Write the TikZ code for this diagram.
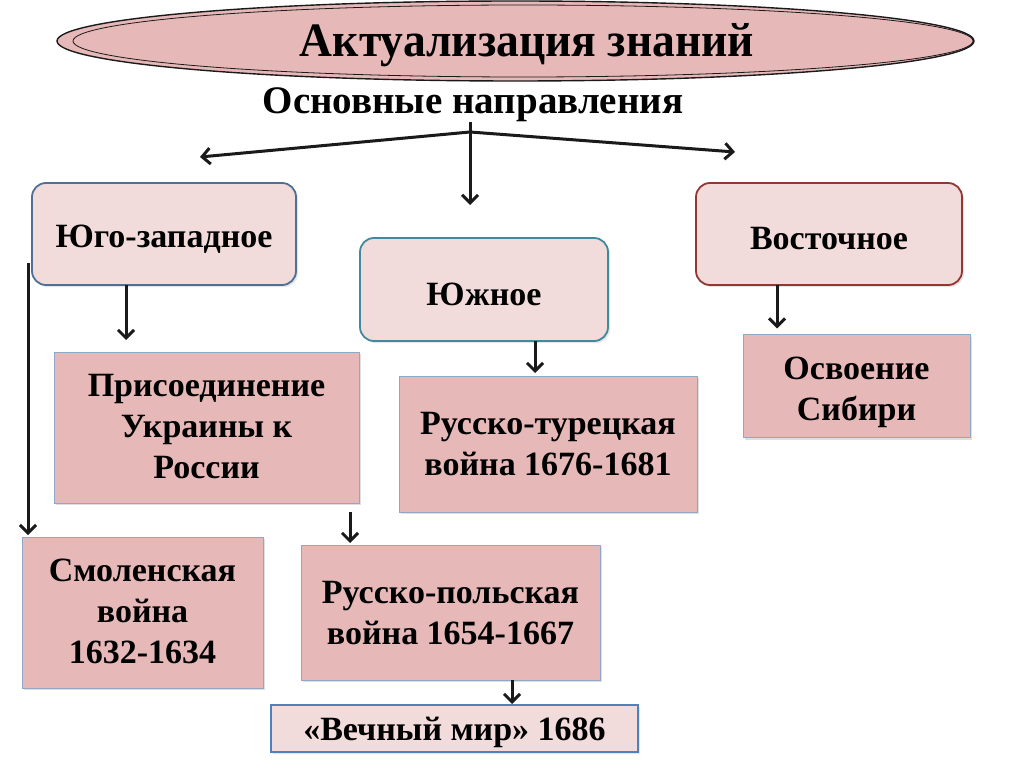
\documentclass[tikz,border=0pt]{standalone}
\usepackage{fontspec}
\setmainfont{Liberation Serif}
\usetikzlibrary{arrows.meta,shadows}
\definecolor{akfill}{HTML}{E6B9B8}
\definecolor{aklight}{HTML}{F2DCDB}
\definecolor{akblue}{HTML}{4F6F95}
\definecolor{akteal}{HTML}{3F8A9C}
\definecolor{akred}{HTML}{943634}
\definecolor{akedge}{HTML}{8EA9C8}
\definecolor{akmir}{HTML}{4F81BD}
\definecolor{akink}{HTML}{1A1A1A}
% lower a text by #1 inside its box, box keeps its size
\newcommand{\dn}[2]{\raisebox{-#1}[\height][\depth]{#2}}

\begin{document}
\begin{tikzpicture}[
  x=1pt, y=-1pt,
  every node/.style={inner sep=0pt, outer sep=0pt, text=black, align=center},
  dirbox/.style={rounded corners=14pt, line width=1.8pt, fill=aklight,
    drop shadow={opacity=0.2, shadow xshift=2pt, shadow yshift=-2pt}},
  evbox/.style={draw=akedge, line width=0.8pt, fill=akfill,
    drop shadow={opacity=0.25, shadow xshift=2pt, shadow yshift=-2pt}},
  arr/.style={draw=akink, line width=3pt, -{Straight Barb[length=8pt,width=16pt]}},
  big/.style={font=\bfseries\fontsize{34}{41}\selectfont},
]
\useasboundingbox[fill=white] (0,0) rectangle (1024,767);

% ---------- title ----------
\fill[akfill] (515.5,41) ellipse [x radius=458.5, y radius=40];
\draw[akink, line width=1.4pt] (515.5,41) ellipse [x radius=458.5, y radius=40];
\draw[akink, line width=0.8pt] (523,41) ellipse [x radius=450, y radius=36];
\node[font=\bfseries\fontsize{48}{48}\selectfont] (title) at (527,45)
  {\scalebox{0.95}[1]{Актуализация знаний}};
\node[font=\bfseries\fontsize{39}{39}\selectfont] (dirs) at (473,105)
  {Основные направления};

% ---------- directions ----------
\node[dirbox, draw=akblue, minimum width=264, minimum height=102, big]
  (yz) at (164,234) {\dn{5pt}{Юго-западное}};
\node[dirbox, draw=akteal, minimum width=248, minimum height=103, big]
  (yuzh) at (484,289.5) {\dn{5pt}{Южное}};
\node[dirbox, draw=akred, minimum width=266, minimum height=102, big]
  (vost) at (829,234) {\dn{5pt}{Восточное}};

\coordinate (fork) at (470,132);
\coordinate (lt) at (200,157);
\coordinate (rt) at (735,152);
\coordinate (dn) at (470,205);
\draw[arr] (fork) -- (lt);
\draw[arr] (fork) -- (rt);
\draw[arr] (dirs.south -| fork) -- (dn);

% ---------- events ----------
\node[evbox, minimum width=305, minimum height=151, big]
  (ukr) at (206.5,427.5) {\dn{2pt}{\begin{tabular}{@{}c@{}}Присоединение\\Украины к\\России\end{tabular}}};
\node[evbox, minimum width=241, minimum height=151, big]
  (smol) at (142.5,612.5) {\dn{2pt}{\begin{tabular}{@{}c@{}}Смоленская\\война\\1632-1634\end{tabular}}};
\node[evbox, minimum width=299, minimum height=135, big]
  (pol) at (450.5,612.5) {\dn{3pt}{\begin{tabular}{@{}c@{}}Русско-польская\\война 1654-1667\end{tabular}}};
\node[evbox, minimum width=298, minimum height=136, big]
  (tur) at (548,444) {\dn{3pt}{\begin{tabular}{@{}c@{}}Русско-турецкая\\война 1676-1681\end{tabular}}};
\node[evbox, minimum width=227, minimum height=103, big]
  (sib) at (856.5,386) {\dn{6pt}{\begin{tabular}{@{}c@{}}Освоение\\Сибири\end{tabular}}};
\node[draw=akmir, line width=2.2pt, fill=aklight, minimum width=367,
  minimum height=47, big,
  drop shadow={opacity=0.2, shadow xshift=2pt, shadow yshift=-2pt}]
  (mir) at (454.5,728.5) {\dn{4pt}{«Вечный мир» 1686}};

% ---------- links ----------
\coordinate (lnk) at ([xshift=-4pt, yshift=22pt]yz.south west);
\draw[arr, shorten >=2pt] (lnk) -- (lnk |- smol.north);
\draw[arr, shorten >=12pt] ([xshift=-38pt]yz.south) -- ([xshift=-38pt]yz.south |- ukr.north);
\draw[arr, shorten <=9pt, shorten >=2pt] ([xshift=143.5pt]ukr.south) -- ([xshift=143.5pt]ukr.south |- pol.north);
\draw[arr, shorten >=1pt] ([xshift=61.5pt]pol.south) -- ([xshift=61.5pt]pol.south |- mir.north);
\draw[arr, shorten >=3pt] ([xshift=51pt]yuzh.south) -- ([xshift=51pt]yuzh.south |- tur.north);
\draw[arr, shorten >=6pt] ([xshift=-52pt]vost.south) -- ([xshift=-52pt]vost.south |- sib.north);

\end{tikzpicture}
\end{document}
